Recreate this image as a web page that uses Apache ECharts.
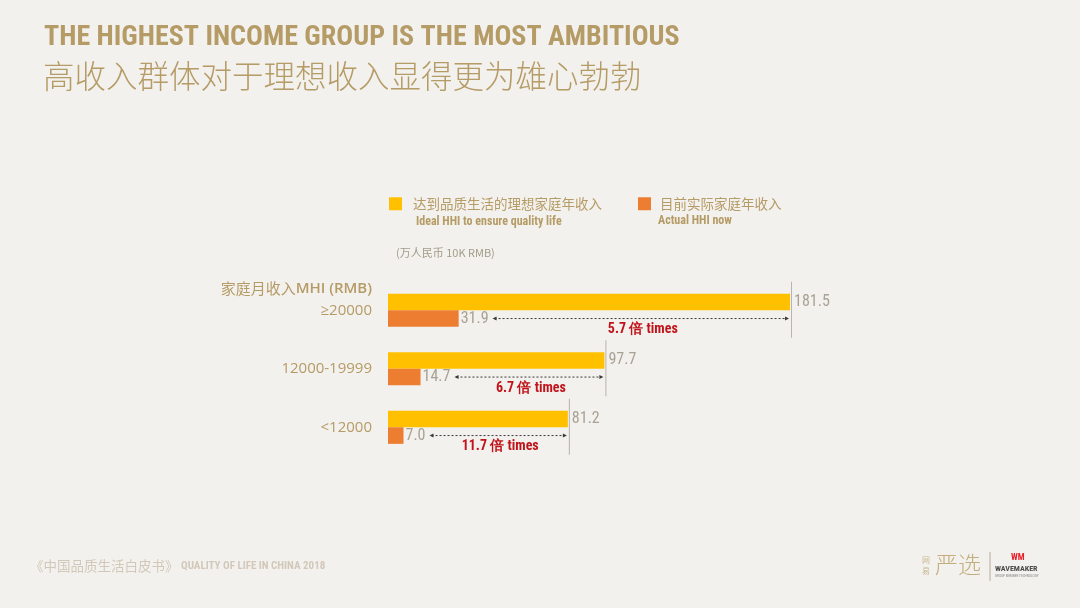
<!DOCTYPE html>
<html>
<head>
<meta charset="utf-8">
<script src="https://cdn.jsdelivr.net/npm/echarts@6/dist/echarts.min.js"></script>
<style>
html,body{margin:0;padding:0;background:#f3f1ed;}
#chart{width:1080px;height:608px;}
</style>
</head>
<body>
<div id="chart"></div>
<script>
// ---- data ----
const categories = ['≥20000', '12000-19999', '<12000'];
const idealValues = [181.5, 97.7, 81.2];
const actualValues = [31.9, 14.7, 7.0];
const ratioLabels = ['5.7 倍 times', '6.7 倍 times', '11.7 倍 times'];
const seriesNames = ['达到品质生活的理想家庭年收入', '目前实际家庭年收入'];
const seriesNamesEn = ['Ideal HHI to ensure quality life', 'Actual HHI now'];

const GOLD = '#b59b66';
const NARROW = '"Liberation Sans Narrow", "Roboto Condensed", Arial, sans-serif';
const CJK = '"Noto Sans CJK SC", "Noto Sans", sans-serif';
const BAR_W = 16.6;

const measureCtx = document.createElement('canvas').getContext('2d');
function textW(str, font) { measureCtx.font = font; return measureCtx.measureText(str).width; }

const annotData = categories.map((c, i) => [idealValues[i], actualValues[i], i]);

const chart = echarts.init(document.getElementById('chart'), null, {renderer: 'canvas'});
chart.setOption({
  backgroundColor: '#f3f1ed',
  animation: false,
  legend: [
    {
      data: [seriesNames[0]], left: 389, top: 197, padding: 0, itemWidth: 13, itemHeight: 13, icon: 'rect',
      textStyle: {color: GOLD, fontSize: 13.5, fontFamily: CJK, padding: [0, 0, 0, 6]},
      selectedMode: false
    },
    {
      data: [seriesNames[1]], left: 638, top: 197, padding: 0, itemWidth: 13, itemHeight: 13, icon: 'rect',
      textStyle: {color: GOLD, fontSize: 13.5, fontFamily: CJK, padding: [0, 0, 0, 4]},
      selectedMode: false
    }
  ],
  grid: {left: 388, top: 281, width: 443, height: 175.5},
  xAxis: {type: 'value', min: 0, max: 200, show: false},
  yAxis: {
    type: 'category', data: categories, inverse: true,
    axisLine: {show: false}, axisTick: {show: false}, splitLine: {show: false},
    axisLabel: {color: GOLD, fontSize: 15, fontFamily: '"Open Sans", sans-serif', margin: 16}
  },
  series: [
    {
      name: seriesNames[0], type: 'bar', data: idealValues, barWidth: BAR_W, barGap: '0%',
      itemStyle: {color: '#ffc000'},
      label: {show: true, position: 'right', distance: 4, color: '#a9a194', fontSize: 16, fontFamily: NARROW,
        formatter: p => p.value.toFixed(1)}
    },
    {
      name: seriesNames[1], type: 'bar', data: actualValues, barWidth: BAR_W, barGap: '0%',
      itemStyle: {color: '#ed7d31'},
      label: {show: true, position: 'right', distance: 2, color: '#a9a194', fontSize: 16, fontFamily: NARROW,
        formatter: p => p.value.toFixed(1)}
    },
    {
      type: 'custom', data: annotData, silent: true, z: 5,
      encode: {x: 0, y: 2},
      renderItem: function (params, api) {
        const ideal = api.value(0), actual = api.value(1), idx = api.value(2);
        const pIdeal = api.coord([ideal, idx]);
        const pActual = api.coord([actual, idx]);
        const cy = pIdeal[1];
        const oy = cy + BAR_W / 2;
        const lblW = textW(actual.toFixed(1), '16px ' + NARROW);
        const x0 = pActual[0] + 2 + lblW + 4;
        const x1 = pIdeal[0] - 1;
        const dark = '#3a3a3a';
        const mid = (x0 + x1) / 2 + 2;
        return {
          type: 'group',
          children: [
            {type: 'line', shape: {x1: pIdeal[0] + 1.5, y1: cy - 28.5, x2: pIdeal[0] + 1.5, y2: cy + 27.5},
              style: {stroke: '#b9b3aa', lineWidth: 1}},
            {type: 'line', shape: {x1: x0 + 2, y1: oy, x2: x1 - 2, y2: oy},
              style: {stroke: dark, lineWidth: 1, lineDash: [2, 2]}},
            {type: 'polygon', shape: {points: [[x0, oy], [x0 + 4, oy - 2], [x0 + 4, oy + 2]]},
              style: {fill: dark}},
            {type: 'polygon', shape: {points: [[x1, oy], [x1 - 4, oy - 2], [x1 - 4, oy + 2]]},
              style: {fill: dark}},
            {type: 'text', x: mid, y: oy + 11,
              style: {text: ratioLabels[idx], fill: '#c0141c', font: 'bold 14px ' + NARROW,
                align: 'center', verticalAlign: 'middle'}}
          ]
        };
      }
    }
  ],
  graphic: [
    {type: 'text', left: 44, top: 24,
      style: {text: 'THE HIGHEST INCOME GROUP IS THE MOST AMBITIOUS', fill: GOLD,
        font: 'bold 28px ' + NARROW}},
    {type: 'text', left: 43, top: 60,
      style: {text: '高收入群体对于理想收入显得更为雄心勃勃', fill: GOLD,
        font: '300 31.5px ' + CJK}},
    {type: 'text', left: 416, top: 216,
      style: {text: seriesNamesEn[0], fill: GOLD, font: 'bold 12px ' + NARROW}},
    {type: 'text', left: 658, top: 215,
      style: {text: seriesNamesEn[1], fill: GOLD, font: 'bold 12px ' + NARROW}},
    {type: 'text', left: 396, top: 247,
      style: {text: '(万人民币 10K RMB)', fill: '#a39a8a', font: '11px ' + CJK}},
    {type: 'text', right: 708, top: 281,
      style: {
        text: '{a|家庭月收入}{b|MHI (RMB)}', align: 'right',
        rich: {
          a: {fill: GOLD, fontSize: 15, fontFamily: CJK},
          b: {fill: GOLD, fontSize: 15, fontFamily: '"Open Sans", sans-serif', fontWeight: 600}
        }
      }},
    {type: 'text', left: 30, top: 559,
      style: {
        text: '{a|《中国品质生活白皮书》}{b| QUALITY OF LIFE IN CHINA 2018}',
        rich: {
          a: {fill: '#d2c8ba', fontSize: 13.5, fontFamily: CJK},
          b: {fill: '#d2c8ba', fontSize: 11, fontFamily: NARROW, fontWeight: 'bold'}
        }
      }},
    // logo area
    {type: 'text', left: 922, top: 554, style: {text: '网\n易', fill: '#c9b68f', font: '8px ' + CJK, lineHeight: 11}},
    {type: 'text', left: 935, top: 553, style: {text: '严选', fill: '#c4ad7c', font: '300 23px ' + CJK}},
    {type: 'line', shape: {x1: 990, y1: 552, x2: 990, y2: 581}, style: {stroke: '#b5aa98', lineWidth: 1}},
    {type: 'text', left: 1011, top: 553, style: {text: 'WM', fill: '#e8202a', font: 'bold 9px ' + NARROW}},
    {type: 'text', left: 995, top: 565, style: {text: 'WAVEMAKER', fill: '#4a4a4a', font: 'bold 8px ' + NARROW}},
    {type: 'text', left: 995, top: 574, style: {text: 'GROUP MEMBER TECHNOLOGY', fill: '#8a8a8a', font: '3.5px ' + NARROW}}
  ]
});
</script>
</body>
</html>
